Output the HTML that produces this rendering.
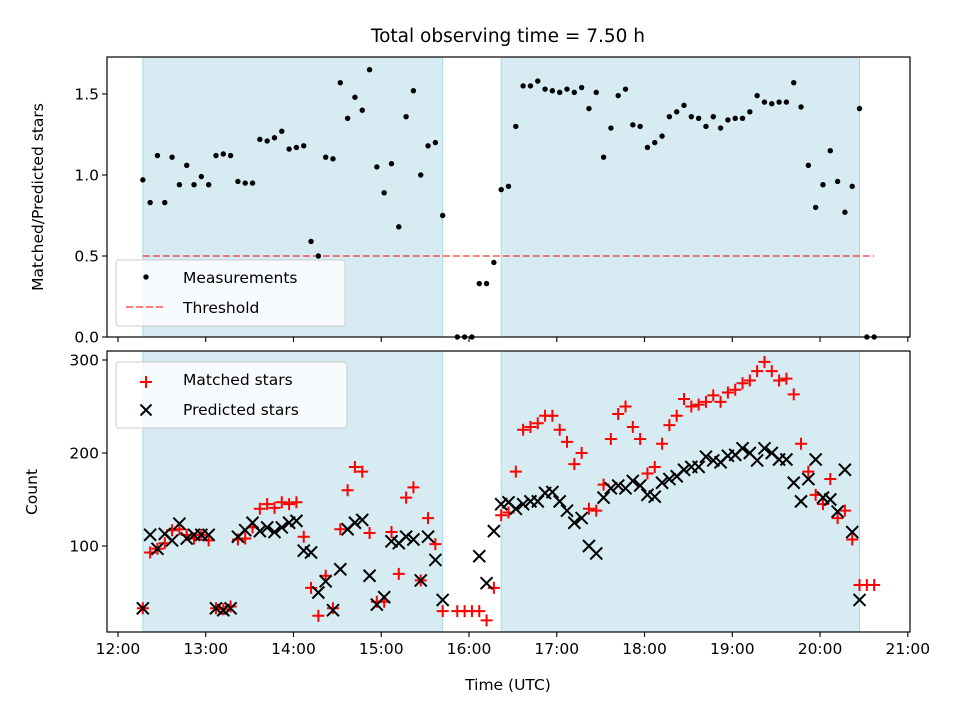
<!DOCTYPE html>
<html><head><meta charset="utf-8"><style>
html,body{margin:0;padding:0;background:#fff;}
svg{display:block;font-family:"DejaVu Sans","Liberation Sans",sans-serif;}
</style></head><body>
<svg id="chart" width="960" height="720" xmlns="http://www.w3.org/2000/svg"></svg>
<script>
// ---- data ----
const startMinute = 17;      // first sample at 12:17
const stepMinutes = 5;
const ratioValues = [0.97,0.83,1.12,0.83,1.11,0.94,1.06,0.94,0.99,0.94,1.12,1.13,1.12,0.96,0.95,0.95,1.22,1.21,1.23,1.27,1.16,1.17,1.18,0.59,0.50,1.11,1.10,1.57,1.35,1.48,1.40,1.65,1.05,0.89,1.07,0.68,1.36,1.52,1.00,1.18,1.20,0.75,
 null,0,0,0,0.33,0.33,0.46,
 0.91,0.93,1.30,1.55,1.55,1.58,1.53,1.52,1.51,1.53,1.51,1.54,1.41,1.51,1.11,1.29,1.49,1.53,1.31,1.30,1.17,1.20,1.24,1.36,1.39,1.43,1.36,1.35,1.30,1.36,1.29,1.34,1.35,1.35,1.39,1.49,1.45,1.44,1.45,1.45,1.57,1.42,1.06,0.80,0.94,1.15,0.96,0.77,0.93,1.41,0,0];
const matchedValues = [33,93,97,103,117,118,112,108,112,106,33,32,35,107,108,120,140,145,141,147,145,147,110,55,25,68,33,118,160,185,180,114,40,40,115,70,152,163,63,130,102,30,
 null,30,30,30,30,20,55,
 133,136,180,225,228,232,240,240,225,212,188,200,140,138,166,215,242,250,228,215,178,185,210,230,240,258,250,252,255,262,255,265,268,275,278,288,298,288,278,280,263,210,180,155,145,172,130,138,107,58,58,58];
const predictedValues = [33,112,97,113,106,124,108,112,112,112,33,31,33,110,117,125,116,120,115,120,125,127,95,93,50,62,31,75,118,125,128,68,37,45,105,103,110,107,63,110,85,42,
 null,null,null,null,89,60,116,
 145,147,140,145,148,148,157,158,148,138,125,130,100,92,152,162,165,162,170,165,155,153,168,172,175,182,185,185,196,192,190,197,198,205,200,192,205,200,193,193,168,148,172,193,152,150,137,182,115,42,null,null];
const shadeSpans = [[17,222],[262,507]];
const thresholdValue = 0.5;
const xTickLabels = ["12:00","13:00","14:00","15:00","16:00","17:00","18:00","19:00","20:00","21:00"];
const ratioTicks = [0.0,0.5,1.0,1.5];
const countTicks = [100,200,300];

// ---- layout ----
const svg = document.getElementById('chart');
const NS = 'http://www.w3.org/2000/svg';
const L = 107, R = 910;
const top1 = 57, bot1 = 337, top2 = 351, bot2 = 632;
const xMin = -7.5, xMax = 541.5; // minutes after 12:00
const FS = 15.5;
const xs = m => L + (m - xMin) / (xMax - xMin) * (R - L);
const y1 = v => bot1 - v * 162;
const y2 = v => 546 - (v - 100) * 0.93;
function el(tag, attrs, parent) {
  const e = document.createElementNS(NS, tag);
  for (const k in attrs) e.setAttribute(k, attrs[k]);
  (parent || svg).appendChild(e);
  return e;
}
const tOf = i => startMinute + i * stepMinutes;

function panel(top, bot, name) {
  const g = el('g', {});
  
  
  shadeSpans.forEach(s => {
    const r = el('rect', {x: xs(s[0]), y: top, width: xs(s[1]) - xs(s[0]), height: bot - top, fill: '#add8e6', 'fill-opacity': 0.5, stroke: '#add8e6', 'stroke-width': 1});
    
    
    g.appendChild(r);
  });
  return g;
}
function frame(top, bot, name) {
  const r = el('rect', {x: L, y: top, width: R - L, height: bot - top, fill: 'none', stroke: '#000', 'stroke-width': 1.2});
  
  
}
function xTicks(bot, labels) {
  xTickLabels.forEach((lab, k) => {
    const x = xs(k * 60);
    el('line', {x1: x, x2: x, y1: bot, y2: bot + 5, stroke: '#000', 'stroke-width': 1.1});
    if (labels) {
      const t = el('text', {x: x, y: bot + 22, 'font-size': FS, 'text-anchor': 'middle'});
      t.textContent = lab;
      
      
    }
  });
}

// ---- top panel ----
panel(top1, bot1, 'ratio-panel');
const th = el('line', {x1: xs(tOf(0)), x2: xs(tOf(100)), y1: y1(thresholdValue), y2: y1(thresholdValue), stroke: '#ff0000', 'stroke-opacity': 0.5, 'stroke-width': 2, 'stroke-dasharray': '7,3'});


ratioValues.forEach((v, i) => {
  if (v === null) return;
  const c = el('circle', {cx: xs(tOf(i)), cy: y1(v), r: 2.7, fill: '#000'});
  
  
});
frame(top1, bot1, 'ratio-axes-frame');
xTicks(bot1, false);
ratioTicks.forEach(v => {
  const y = y1(v);
  el('line', {x1: L - 5, x2: L, y1: y, y2: y, stroke: '#000', 'stroke-width': 1.1});
  const t = el('text', {x: L - 8, y: y + 5.5, 'font-size': FS, 'text-anchor': 'end'});
  t.textContent = v.toFixed(1);
  
  
});

// ---- bottom panel ----
panel(top2, bot2, 'count-panel');
matchedValues.forEach((v, i) => {
  if (v === null) return;
  const x = xs(tOf(i)), y = y2(v);
  const p = el('path', {d: `M${x-6},${y}H${x+6}M${x},${y-6}V${y+6}`, stroke: '#ff0000', 'stroke-width': 2});
  
  
});
predictedValues.forEach((v, i) => {
  if (v === null) return;
  const x = xs(tOf(i)), y = y2(v);
  const p = el('path', {d: `M${x-6},${y-6}L${x+6},${y+6}M${x-6},${y+6}L${x+6},${y-6}`, stroke: '#000', 'stroke-width': 2});
  
  
});
frame(top2, bot2, 'count-axes-frame');
xTicks(bot2, true);
countTicks.forEach(v => {
  const y = y2(v);
  el('line', {x1: L - 5, x2: L, y1: y, y2: y, stroke: '#000', 'stroke-width': 1.1});
  const t = el('text', {x: L - 8, y: y + 5.5, 'font-size': FS, 'text-anchor': 'end'});
  t.textContent = v;
  
  
});
</script>
<!-- labels & legends -->
<svg style="position:absolute;left:0;top:0" width="960" height="720" xmlns="http://www.w3.org/2000/svg" font-family="DejaVu Sans, Liberation Sans, sans-serif">
  <text x="508" y="42" font-size="18.5" text-anchor="middle">Total observing time = 7.50 h</text>
  <text x="508" y="690" font-size="15.5" text-anchor="middle">Time (UTC)</text>
  <text x="43" y="197" font-size="15.5" text-anchor="middle" transform="rotate(-90 43 197)">Matched/Predicted stars</text>
  <text x="37" y="492" font-size="15.5" text-anchor="middle" transform="rotate(-90 37 492)">Count</text>
  <g>
    <rect x="116" y="260" width="229" height="66" rx="3" fill="#fff" fill-opacity="0.8" stroke="#ccc"/>
    <circle cx="146" cy="277" r="2.7" fill="#000"/>
    <text x="183" y="283" font-size="15.5">Measurements</text>
    <line x1="126" x2="166" y1="307" y2="307" stroke="#ff0000" stroke-opacity="0.5" stroke-width="2" stroke-dasharray="7,3"/>
    <text x="183" y="313" font-size="15.5">Threshold</text>
  </g>
  <g>
    <rect x="116" y="362" width="231" height="66" rx="3" fill="#fff" fill-opacity="0.8" stroke="#ccc"/>
    <path d="M140,382H152M146,376V388" stroke="#ff0000" stroke-width="2"/>
    <text x="183" y="385" font-size="15.5">Matched stars</text>
    <path d="M140.5,404.5L151.5,415.5M140.5,415.5L151.5,404.5" stroke="#000" stroke-width="2"/>
    <text x="183" y="415" font-size="15.5">Predicted stars</text>
  </g>
</svg>
</body></html>
